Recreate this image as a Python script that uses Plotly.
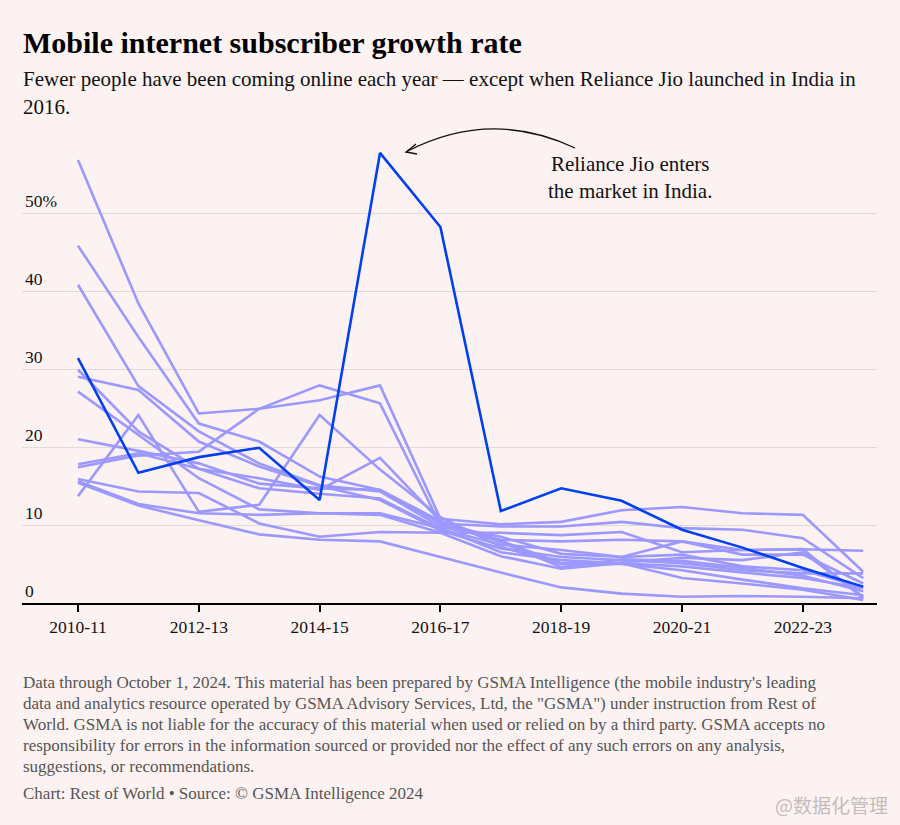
import plotly.graph_objects as go

# ---------------- data ----------------
years = ["2010-11", "2011-12", "2012-13", "2013-14", "2014-15", "2015-16", "2016-17",
         "2017-18", "2018-19", "2019-20", "2020-21", "2021-22", "2022-23", "2023-24"]
tick_labels = ["2010-11", "2012-13", "2014-15", "2016-17", "2018-19", "2020-21", "2022-23"]
y_ticks = [0, 10, 20, 30, 40, 50]
y_tick_text = ["0", "10", "20", "30", "40", "50%"]

india = [31.4, 16.7, 18.7, 19.9, 13.2, 57.7, 48.2, 11.8, 14.7, 13.1, 9.4, 7.1, 4.5, 2.1]

country_a = [56.8, 38.4, 24.3, 24.9, 26.0, 27.9, 10.8, 10.1, 10.4, 11.9, 12.3, 11.5, 11.3, 4.0]
country_b = [45.8, 34.1, 23.0, 20.7, 16.2, 14.5, 10.2, 9.8, 9.8, 10.4, 9.6, 9.4, 8.3, 3.2]
country_c = [40.8, 27.8, 22.0, 17.9, 15.1, 14.3, 9.8, 8.1, 7.9, 8.1, 7.9, 6.8, 6.9, 6.7]
country_d = [29.9, 22.0, 17.2, 14.7, 14.0, 13.4, 9.5, 7.5, 6.8, 5.9, 6.2, 4.7, 4.2, 2.0]
country_e = [29.0, 27.3, 20.7, 17.5, 15.0, 13.2, 9.3, 7.0, 5.9, 5.5, 5.1, 4.2, 3.8, 3.8]
country_f = [27.1, 21.5, 16.0, 12.0, 11.5, 11.5, 9.6, 6.5, 5.5, 5.1, 4.7, 3.9, 3.2, 1.9]
country_g = [21.0, 19.5, 17.9, 15.3, 14.7, 14.5, 10.5, 8.0, 5.1, 5.2, 5.8, 5.5, 6.5, 0.8]
country_h = [17.4, 18.9, 19.4, 24.9, 27.9, 25.6, 10.0, 8.5, 6.3, 5.9, 7.9, 6.2, 6.2, 2.5]
country_i = [17.8, 19.2, 17.2, 16.0, 14.5, 18.6, 10.5, 7.8, 4.6, 5.6, 5.4, 4.5, 3.5, 1.5]
country_j = [13.7, 24.1, 11.7, 12.6, 24.1, 17.1, 11.0, 7.2, 5.0, 5.0, 4.2, 3.0, 1.9, 1.0]
country_k = [15.9, 14.3, 14.1, 10.2, 8.5, 9.1, 9.0, 9.0, 8.7, 9.1, 6.5, 6.8, 6.9, 0.6]
country_l = [15.6, 12.7, 11.5, 11.3, 11.5, 11.3, 9.0, 6.0, 4.4, 5.1, 3.2, 2.5, 1.7, 0.4]
country_m = [15.4, 12.5, 10.6, 8.8, 8.1, 7.9, 5.9, 3.9, 2.0, 1.2, 0.8, 0.9, 0.8, 0.6]

others = [country_a, country_b, country_c, country_d, country_e, country_f, country_g,
          country_h, country_i, country_j, country_k, country_l, country_m]

# ---------------- styling ----------------
BG = "#fdf2f2"
PURPLE = "#9b98ff"
BLUE = "#0040f0"
SERIF = "Liberation Serif, Times New Roman, serif"

x_idx = list(range(len(years)))
tick_idx = [years.index(t) for t in tick_labels]

fig = go.Figure()
for s in others:
    fig.add_trace(go.Scatter(x=x_idx, y=s, mode="lines",
                             line=dict(color=PURPLE, width=2.6),
                             hoverinfo="skip", showlegend=False))
fig.add_trace(go.Scatter(x=x_idx, y=india, mode="lines",
                         line=dict(color=BLUE, width=2.6),
                         hoverinfo="skip", showlegend=False))

# pixel geometry helpers (layout only)
L, R, TOP, BOT = 22, 877, 115, 603
X0PX, XSTEP = 78, 60.4
YPX = 7.8
x_range = [(L - X0PX) / XSTEP, (R - X0PX) / XSTEP]
y_range = [0, (BOT - TOP) / YPX]


def dx(px):
    return (px - X0PX) / XSTEP


def dy(py):
    return (BOT - py) / YPX


def py_paper(py):
    return (BOT - py) / (BOT - TOP)


def px_paper(px):
    return (px - L) / (R - L)


fig.update_layout(
    width=900, height=825,
    paper_bgcolor=BG, plot_bgcolor=BG,
    margin=dict(l=L, r=900 - R, t=TOP, b=825 - BOT),
    font=dict(family=SERIF, color="#111111"),
    xaxis=dict(range=x_range, tickmode="array", tickvals=tick_idx, ticktext=tick_labels,
               showgrid=False, zeroline=False, showline=True, linecolor="#000000",
               linewidth=2, ticks="outside", ticklen=7, tickwidth=2, tickcolor="#000000",
               tickfont=dict(size=17.5, family=SERIF, color="#111111")),
    yaxis=dict(range=y_range, tickmode="array", tickvals=y_ticks, ticktext=y_tick_text,
               showgrid=True, gridcolor="#e3d9d9", gridwidth=1, zeroline=False,
               ticklabelposition="inside top", ticks="",
               tickfont=dict(size=17.5, family=SERIF, color="#111111")),
    showlegend=False,
)

# curved annotation arrow
p0 = (575, 148)
c = (490, 108)
p2 = (406, 152)
fig.add_shape(type="path", xref="x", yref="y",
              path=f"M {dx(p0[0])},{dy(p0[1])} Q {dx(c[0])},{dy(c[1])} {dx(p2[0])},{dy(p2[1])}",
              line=dict(color="#111111", width=1.3), layer="above")
fig.add_shape(type="path", xref="x", yref="y",
              path=(f"M {dx(416)},{dy(144)} L {dx(p2[0])},{dy(p2[1])} "
                    f"L {dx(417)},{dy(154)}"),
              line=dict(color="#111111", width=1.3), layer="above")

annotations = [
    dict(text="Reliance Jio enters<br>the market in India.", x=dx(630), y=dy(177),
         xref="x", yref="y", showarrow=False, align="center",
         font=dict(size=21, family=SERIF, color="#111111")),
    dict(text="<b>Mobile internet subscriber growth rate</b>", x=px_paper(21), y=py_paper(42),
         xanchor="left", yanchor="middle", font=dict(size=30, family=SERIF, color="#000000")),
    dict(text="Fewer people have been coming online each year — except when Reliance Jio launched in India in",
         x=px_paper(21), y=py_paper(79), xanchor="left", yanchor="middle",
         font=dict(size=21, family=SERIF, color="#111111")),
    dict(text="2016.", x=px_paper(21), y=py_paper(107), xanchor="left", yanchor="middle",
         font=dict(size=21, family=SERIF, color="#111111")),
]

foot_lines = [
    ("Data through October 1, 2024. This material has been prepared by GSMA Intelligence (the mobile industry's leading", 682),
    ("data and analytics resource operated by GSMA Advisory Services, Ltd, the \"GSMA\") under instruction from Rest of", 703),
    ("World. GSMA is not liable for the accuracy of this material when used or relied on by a third party. GSMA accepts no", 724),
    ("responsibility for errors in the information sourced or provided nor the effect of any such errors on any analysis,", 745),
    ("suggestions, or recommendations.", 766),
    ("Chart: Rest of World • Source: © GSMA Intelligence 2024", 793),
]
for txt, yy in foot_lines:
    annotations.append(dict(text=txt, x=px_paper(21), y=py_paper(yy), xanchor="left",
                            yanchor="middle", showarrow=False,
                            font=dict(size=17, family=SERIF, color="#555555")))

annotations.append(dict(text="@数据化管理", x=px_paper(890), y=py_paper(804), xanchor="right",
                        yanchor="middle", showarrow=False,
                        font=dict(size=19, family="Noto Sans CJK SC", color="#c4bcbc")))

for a in annotations:
    a.setdefault("xref", "paper")
    a.setdefault("yref", "paper")
    a.setdefault("showarrow", False)
fig.update_layout(annotations=annotations)

fig.write_html(
    "out.html",
    config={"displayModeBar": False},
    post_script="document.body.style.margin='0';document.body.style.background='" + BG + "';",
)
